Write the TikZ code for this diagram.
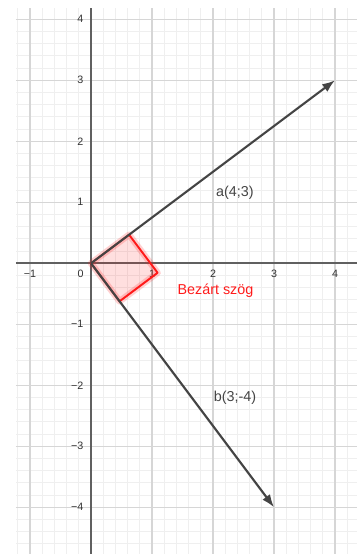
\documentclass[tikz,border=0pt]{standalone}
\usepackage{fontspec}
\setmainfont{Liberation Sans}
\usetikzlibrary{arrows.meta}

\definecolor{gridminor}{HTML}{EFEFEF}
\definecolor{gridmajor}{HTML}{D6D6D6}
\definecolor{axisgrey}{HTML}{606060}
\definecolor{vecgrey}{HTML}{444444}
\definecolor{ticktext}{HTML}{333333}
\definecolor{anglered}{HTML}{FF1A1A}

\begin{document}
\begin{tikzpicture}[
  x=1cm, y=1cm,
  >={Latex[length=6pt, width=4.4pt]},
  minorgrid/.style={draw=gridminor, line width=0.4pt},
  majorgrid/.style={draw=gridmajor, line width=0.6pt},
  axis/.style={draw=axisgrey, line width=0.9pt},
  tick/.style={font=\fontsize{5}{6}\selectfont, text=ticktext, inner sep=0pt},
  vec/.style={->, draw=vecgrey, line width=1pt},
  vlabel/.style={font=\fontsize{6.7}{8}\selectfont, text=vecgrey, inner sep=0pt},
  anglehalo/.style={draw=anglered, draw opacity=0.2, line width=3pt, line join=round},
  anglemark/.style={draw=anglered, line width=0.9pt, fill=anglered, fill opacity=0.14, line join=round},
]
\useasboundingbox (-1.492,-4.766) rectangle (4.361,4.316);

% ================= grid and axes =================
\draw[minorgrid, step=0.2] (-1.23,-4.77) grid (4.36,4.18);
\draw[majorgrid, step=1] (-1.23,-4.77) grid (4.36,4.18);
\draw[axis] (-1.23,0) -- (4.36,0);
\draw[axis] (0,-4.77) -- (0,4.18);

\foreach \x/\t in {-1/−1, 1/1, 2/2, 3/3, 4/4}
  \node[tick] (xt\x) at (\x,-0.17) {\t};
\foreach \y/\t in {-4/−4, -3/−3, -2/−2, -1/−1, 1/1, 2/2, 3/3, 4/4}
  \node[tick, anchor=east] (yt\y) at (-0.12,\y) {\t};
\node[tick] (zero) at (-0.17,-0.17) {0};

% ================= vectors =================
\coordinate (O) at (0,0);
\coordinate (A) at (4,3);
\coordinate (B) at (3,-4);

% right angle between a and b
\coordinate (P) at (0.624,0.468);
\coordinate (Q) at (1.092,-0.156);
\coordinate (R) at (0.468,-0.624);
\draw[anglehalo] (O) -- (P) -- (Q) -- (R) -- cycle;
\draw[anglemark] (O) -- (P) -- (Q) -- (R) -- cycle;

\draw[vec] (O) -- (A);
\draw[vec] (O) -- (B);

\node[vlabel] (alab) at (2.36,1.15) {a(4;3)};
\node[vlabel] (blab) at (2.36,-2.21) {b(3;-4)};
\node[vlabel, text=anglered] (angle) at (2.04,-0.45) {Bezárt szög};

\end{tikzpicture}
\end{document}
